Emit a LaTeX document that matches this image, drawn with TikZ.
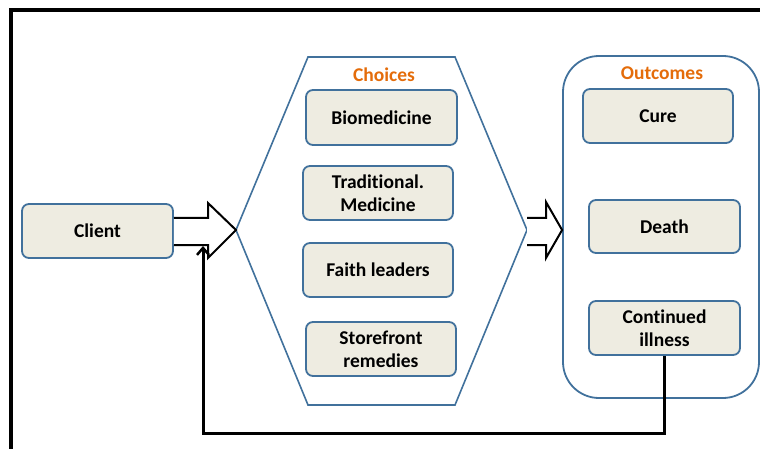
\documentclass[tikz,border=0pt]{standalone}
\usepackage{fontspec}
\setmainfont[Ligatures=NoCommon]{Carlito}
\usetikzlibrary{arrows.meta}
\definecolor{boxblue}{RGB}{65,113,156}
\definecolor{boxfill}{RGB}{238,236,225}
\definecolor{orangetxt}{RGB}{228,108,10}
\tikzset{
  itembox/.style={draw=boxblue, fill=boxfill, line width=1.8pt, rounded corners=7pt,
    inner sep=0pt, align=center, font=\fontsize{19.5}{23}\selectfont\bfseries, text=black},
  heading/.style={font=\fontsize{19.5}{22}\selectfont\bfseries, text=orangetxt},
  blockarrow/.style={draw=black, fill=white, line width=2pt, line join=miter},
  feedback/.style={draw=black, line width=3pt, -{Straight Barb[length=7pt,width=12pt,line width=2.5pt]}}
}
\begin{document}
\begin{tikzpicture}[x=1pt,y=-1pt]
\useasboundingbox (0,0) rectangle (760,449);
% frame (only top and left edges visible)
\draw[line width=3.6pt] (760,10) -- (10.7,10) -- (10.7,449);

% Choices hexagon
\coordinate (hl) at (236,230);
\coordinate (htl) at (308,57);
\coordinate (htr) at (455,57);
\coordinate (hr) at (527,230);
\coordinate (hbr) at (455,405);
\coordinate (hbl) at (308,405);
\draw[boxblue, line width=1.6pt, line join=miter] (hl) -- (htl) -- (htr) -- (hr) -- (hbr) -- (hbl) -- cycle;
\node[heading] (choices) at (384,75) {Choices};

% Outcomes container
\node[draw=boxblue, line width=1.8pt, rounded corners=36pt, minimum width=196pt, minimum height=342pt, inner sep=0pt] (outbox) at (661,227) {};
\node[heading] (outcomes) at (662,73) {Outcomes};

% boxes
\node[itembox, minimum width=151pt, minimum height=54pt] (client) at (97.5,231) {Client};
\node[itembox, minimum width=151pt, minimum height=55pt] (bio) at (381.5,117.5) {Biomedicine};
\node[itembox, minimum width=150pt, minimum height=54pt] (trad) at (378,193) {Traditional.\\Medicine};
\node[itembox, minimum width=150pt, minimum height=54pt] (faith) at (378,270) {Faith leaders};
\node[itembox, minimum width=150pt, minimum height=54pt] (store) at (381,349) {Storefront\\remedies};
\node[itembox, minimum width=150pt, minimum height=54pt] (cure) at (658,116) {Cure};
\node[itembox, minimum width=151pt, minimum height=53pt] (death) at (664.5,226.5) {Death};
\node[itembox, minimum width=151pt, minimum height=54pt] (cont) at (664.5,328) {Continued\\illness};

% block arrow client -> choices
\draw[blockarrow] (client.east |- 0,218) -- (208,218) -- (208,203) -- (hl) -- (208,258) -- (208,245) -- (client.east |- 0,245);
% block arrow choices -> outcomes
\draw[blockarrow] (hr |- 0,218) -- (546,218) -- (546,202) -- (outbox.west |- 0,230) -- (546,258) -- (546,245) -- (hr |- 0,245);

% feedback loop
\coordinate (fbend) at (203,246);
\draw[feedback] (cont.south) -- (cont.south |- 0,433) -| (fbend);
\end{tikzpicture}
\end{document}
